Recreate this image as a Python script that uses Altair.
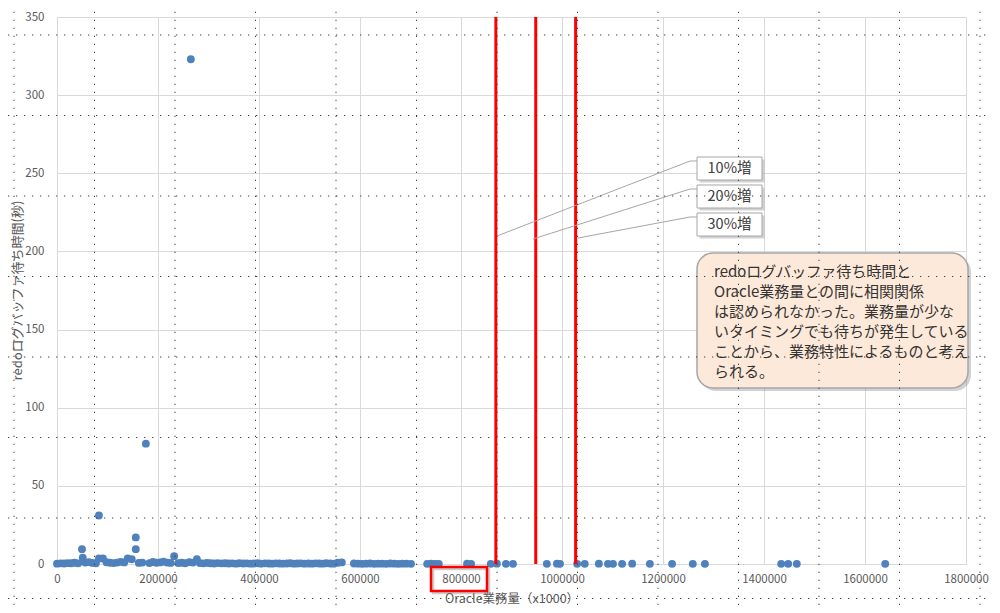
import altair as alt
import pandas as pd

FONT = "Noto Sans CJK JP"

# ---------------- data ----------------
band_x = [0, 7000, 14000, 21000, 28000, 35000, 42000, 56000, 63000, 70000,
          77000, 98000, 105000, 112000, 119000, 126000, 133000, 162000, 169000, 183000,
          190000, 197000, 204000, 211000, 218000, 225000, 240000, 247000, 254000, 262000,
          269000, 283000, 290000, 297000, 304000, 311000, 318000, 326000, 333000, 340000,
          347000, 354000, 361000, 369000, 376000, 383000, 390000, 397000, 404000, 412000,
          419000, 426000, 433000, 440000, 447000, 455000, 462000, 469000, 476000, 483000,
          490000, 498000, 505000, 512000, 519000, 526000, 533000, 541000, 548000, 556000,
          564000]
band_y = [0.2, 0.4, 0.3, 0.6, 0.5, 0.8, 0.4, 0.9, 1.2, 0.7,
          0.5, 1.1, 0.8, 0.6, 0.9, 1.4, 1.0, 0.7, 0.9, 0.6,
          1.3, 0.8, 1.0, 1.5, 0.9, 0.7, 0.6, 0.8, 0.5, 1.2,
          0.9, 0.6, 0.4, 0.7, 0.5, 0.3, 0.6, 0.4, 0.5, 0.3,
          0.4, 0.2, 0.5, 0.3, 0.4, 0.2, 0.3, 0.5, 0.2, 0.4,
          0.3, 0.2, 0.4, 0.3, 0.2, 0.3, 0.5, 0.2, 0.3, 0.4,
          0.2, 0.3, 0.2, 0.4, 0.3, 0.2, 0.5, 0.3, 0.2, 0.8,
          1.0]
mid_x = [588000, 596000, 604000, 612000, 620000, 628000, 636000, 644000, 652000, 660000,
         668000, 676000, 684000, 692000, 701000]
mid_y = [0.3, 0.2, 0.1, 0.2, 0.3, 0.1, 0.2, 0.2, 0.1, 0.3, 0.2, 0.1, 0.2, 0.2, 0.1]
tail_x = [733000, 741000, 749000, 756000, 812000, 820000, 859000, 871000, 889000, 903000,
          970000, 990000, 996000, 1030000, 1045000, 1073000, 1091000, 1101000, 1119000, 1139000,
          1174000, 1218000, 1259000, 1283000, 1434000, 1448000, 1465000, 1640000]
tail_y = [0.1, 0.2, 0.1, 0.1, 0.2, 0.1, 0.1, 0.2, 0.1, 0.1,
          0.1, 0.2, 0.1, 0.1, 0.1, 0.2, 0.1, 0.1, 0.1, 0.2,
          0.1, 0.1, 0.1, 0.1, 0.1, 0.1, 0.1, 0.1]
out_x = [49500, 51000, 83000, 83000, 91000, 140000, 148000, 156000, 156000, 176000,
         232000, 265000, 277000]
out_y = [9.5, 4.0, 31.0, 3.5, 3.5, 3.5, 3.0, 17.0, 9.5, 77.0,
         5.0, 323.0, 3.0]

x_ticks = [0, 200000, 400000, 600000, 800000, 1000000, 1200000, 1400000, 1600000, 1800000]
y_ticks = [0, 50, 100, 150, 200, 250, 300, 350]

base_load = 790000
increase_rates = [0.10, 0.20, 0.30]
increase_labels = ["10%増", "20%増", "30%増"]

note_lines = [
    "redoログバッファ待ち時間と",
    "Oracle業務量との間に相関関係",
    "は認められなかった。業務量が少な",
    "いタイミングでも待ちが発生している",
    "ことから、業務特性によるものと考え",
    "られる。",
]

x_title = "Oracle業務量（x1000）"
y_title = "redoログバッファ待ち時間(秒)"

# ---------------- layout ----------------
W, H = 909, 547
X_MAX, Y_MAX = 1800000, 350
LEFT, TOP = 57, 17          # page position of plot origin


def ux(page_x):
    return (page_x - LEFT) * X_MAX / W


def uy(page_y):
    return (TOP + H - page_y) * Y_MAX / H


xs = alt.Scale(domain=[0, X_MAX], nice=False, zero=False)
ys = alt.Scale(domain=[0, Y_MAX], nice=False, zero=False)

x_axis = alt.Axis(
    values=x_ticks, format="d", labelPadding=9, labelFlush=False,
    labelOverlap=False, title=x_title, titleY=34, titleBaseline="middle",
    titleFontSize=12.5)
y_axis = alt.Axis(
    values=y_ticks, format="d", labelPadding=13, labelFlush=False,
    title=y_title, titleX=-40, titleY=273, titleAngle=270,
    titleAlign="center", titleBaseline="middle")


def X(field):
    return alt.X(field, scale=xs, axis=x_axis)


def Y(field):
    return alt.Y(field, scale=ys, axis=y_axis)


pts = pd.DataFrame({
    "x": band_x + mid_x + tail_x + out_x,
    "y": band_y + mid_y + tail_y + out_y,
})

points = alt.Chart(pts).mark_circle(size=62, color="#4F81BD", opacity=1).encode(
    x=X("x:Q"), y=Y("y:Q"),
)

# red threshold lines
red_df = pd.DataFrame({
    "x": [base_load * (1 + r) for r in increase_rates],
    "y": [0] * 3,
    "y2": [Y_MAX] * 3,
})
red_lines = alt.Chart(red_df).mark_rule(color="#FF0000", strokeWidth=3).encode(
    x=X("x:Q"), y=Y("y:Q"), y2="y2:Q",
)

# callout boxes
box_tops = [157, 185, 213]
box_h = 23
box_l, box_r = 697, 762
lead_end = [(497, 236), (533, 239), (578, 238)]
lead_y = [161, 189, 217]

lead_rows = []
for i in range(3):
    ex, ey = lead_end[i]
    lead_rows.append({"g": i, "o": 0, "x": ux(ex), "y": uy(ey)})
    lead_rows.append({"g": i, "o": 1, "x": ux(690), "y": uy(lead_y[i])})
    lead_rows.append({"g": i, "o": 2, "x": ux(box_l), "y": uy(lead_y[i])})
leaders = alt.Chart(pd.DataFrame(lead_rows)).mark_line(
    color="#A6A6A6", strokeWidth=1).encode(
    x=X("x:Q"), y=Y("y:Q"), detail="g:N", order="o:Q",
)

cb = pd.DataFrame({
    "x": [ux(box_l)] * 3, "x2": [ux(box_r)] * 3,
    "y": [uy(t) for t in box_tops], "y2": [uy(t + box_h) for t in box_tops],
    "xc": [ux((box_l + box_r) / 2)] * 3,
    "yc": [uy(t + box_h / 2) for t in box_tops],
    "label": increase_labels,
})
cb_shadow = alt.Chart(cb).mark_rect(
    fill="#7F7F7F", opacity=0.35, xOffset=2.5, x2Offset=2.5, yOffset=2.5, y2Offset=2.5).encode(
    x=X("x:Q"), x2="x2:Q", y=Y("y:Q"), y2="y2:Q",
)
cb_rect = alt.Chart(cb).mark_rect(fill="#FFFFFF", stroke="#A6A6A6", strokeWidth=1).encode(
    x=X("x:Q"), x2="x2:Q", y=Y("y:Q"), y2="y2:Q",
)
cb_text = alt.Chart(cb).mark_text(
    font=FONT, fontSize=14.5, color="#404040", align="center", baseline="middle").encode(
    x=X("xc:Q"), y=Y("yc:Q"), text="label:N",
)

# note box
note_box = pd.DataFrame({"x": [ux(697)], "x2": [ux(968)], "y": [uy(253)], "y2": [uy(388)]})
note_shadow = alt.Chart(note_box).mark_rect(
    fill="#7F7F7F", opacity=0.35, cornerRadius=16,
    xOffset=3, x2Offset=3, yOffset=3, y2Offset=3).encode(
    x=X("x:Q"), x2="x2:Q", y=Y("y:Q"), y2="y2:Q",
)
note_rect = alt.Chart(note_box).mark_rect(
    fill="#FDE9D9", stroke="#A6A6A6", strokeWidth=1.5, cornerRadius=16).encode(
    x=X("x:Q"), x2="x2:Q", y=Y("y:Q"), y2="y2:Q",
)
note_df = pd.DataFrame({
    "t": note_lines,
    "x": [ux(714)] * len(note_lines),
    "y": [uy(271.5 + 20 * i) for i in range(len(note_lines))],
})
note_text = alt.Chart(note_df).mark_text(
    font=FONT, fontSize=15, color="#333333", align="left", baseline="middle").encode(
    x=X("x:Q"), y=Y("y:Q"), text="t:N",
)

# red box around the 800000 label
lab_box = pd.DataFrame({"x": [ux(431)], "x2": [ux(487)], "y": [uy(567)], "y2": [uy(591)]})
lab_shadow = alt.Chart(lab_box).mark_rect(
    fillOpacity=0, stroke="#7F7F7F", strokeOpacity=0.4, strokeWidth=2.5,
    xOffset=2, x2Offset=2, yOffset=2, y2Offset=2).encode(
    x=X("x:Q"), x2="x2:Q", y=Y("y:Q"), y2="y2:Q",
)
lab_rect = alt.Chart(lab_box).mark_rect(
    fillOpacity=0, stroke="#FF0000", strokeWidth=2.5).encode(
    x=X("x:Q"), x2="x2:Q", y=Y("y:Q"), y2="y2:Q",
)

# dotted page grid of the screenshot
vx = [14 + 80.5 * k for k in range(13)]
hy = [35 + 80.5 * k for k in range(8)]
vdf = pd.DataFrame({"x": [ux(p) for p in vx], "y": [uy(613)] * len(vx), "y2": [uy(0)] * len(vx)})
hdf = pd.DataFrame({"y": [uy(p) for p in hy], "x": [ux(0)] * len(hy), "x2": [ux(1000)] * len(hy)})
vgrid = alt.Chart(vdf).mark_rule(color="#404040", strokeWidth=1, strokeDash=[1.3, 6.7]).encode(
    x=X("x:Q"), y=Y("y:Q"), y2="y2:Q",
)
hgrid = alt.Chart(hdf).mark_rule(color="#404040", strokeWidth=1, strokeDash=[1.3, 6.7]).encode(
    y=Y("y:Q"), x=X("x:Q"), x2="x2:Q",
)

chart = alt.layer(
    points, red_lines, leaders, cb_shadow, cb_rect, cb_text,
    note_shadow, note_rect, note_text, lab_shadow, lab_rect, vgrid, hgrid,
).properties(
    width=W, height=H,
    padding={"left": LEFT - 8, "top": TOP - 8, "right": 24, "bottom": 41},
    autosize=alt.AutoSizeParams(type="none"),
).configure_view(stroke=None).configure_axis(
    gridColor="#D9D9D9", gridWidth=1, domainColor="#D9D9D9", domainWidth=1,
    labelColor="#595959", titleColor="#595959", labelFont=FONT, titleFont=FONT,
    labelFontSize=11.5, titleFontSize=13, titleFontWeight="normal", ticks=False,
)

chart.save("out.html", embed_options={"renderer": "svg", "actions": False})
